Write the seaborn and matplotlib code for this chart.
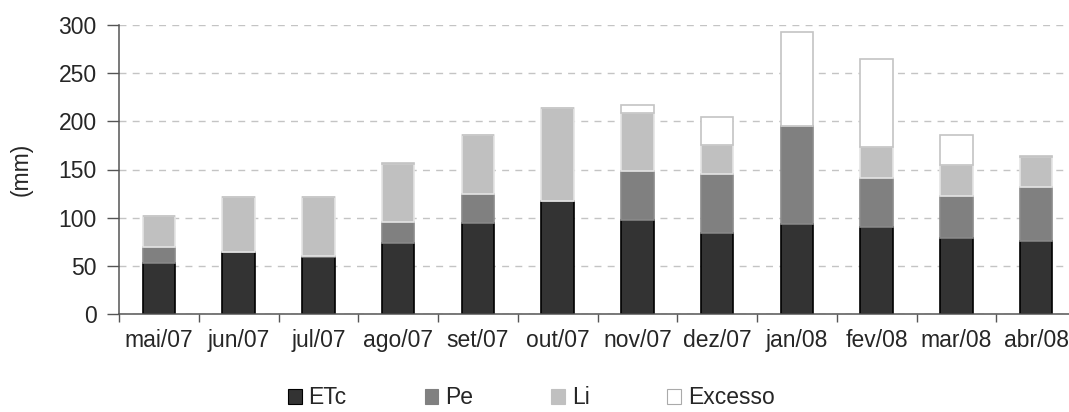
import numpy as np
import pandas as pd
import matplotlib
matplotlib.use("Agg")
import matplotlib.pyplot as plt
import seaborn as sns
from matplotlib.patches import Patch
from matplotlib.ticker import FixedLocator

months = ["mai/07", "jun/07", "jul/07", "ago/07", "set/07", "out/07",
          "nov/07", "dez/07", "jan/08", "fev/08", "mar/08", "abr/08"]
etc = [53.3, 64.0, 59.5, 73.7, 94.1, 117.6, 97.6, 84.4, 93.8, 90.0, 78.9, 75.4]
pe = [16.3, 0.0, 0.8, 21.8, 30.8, 0.0, 51.2, 60.6, 101.4, 51.2, 43.9, 56.8]
li = [32.1, 57.8, 61.5, 59.9, 61.3, 96.2, 59.5, 30.4, 0.0, 32.5, 32.2, 31.1]
excesso = [0.0, 0.0, 0.0, 1.3, 0.0, 0.0, 9.0, 29.1, 97.5, 91.4, 31.2, 0.7]

series_names = ["ETc", "Pe", "Li", "Excesso"]
fills = ["#333333", "#808080", "#c0c0c0", "#ffffff"]
edges = ["#000000", "#8a8a8a", "#e4e4e4", "#c4c4c4"]

sns.set_style("white")
plt.rcParams["font.family"] = ["Liberation Sans", "DejaVu Sans"]

fig = plt.figure(figsize=(10.69, 4.12), dpi=100)
ax = fig.add_axes([119 / 1069, 1 - 314 / 412, (1076 - 119) / 1069, (314 - 25) / 412])

df = pd.DataFrame({"mes": months, "ETc": etc, "Pe": pe, "Li": li, "Excesso": excesso})

bottom = np.zeros(len(months))
for name, fc, ec in zip(series_names, fills, edges):
    sns.barplot(data=df, x="mes", y=name, order=months, color=fc, ax=ax,
                width=0.41, bottom=bottom, edgecolor=ec, linewidth=1.2,
                saturation=1, zorder=3)
    bottom = bottom + df[name].to_numpy()

ax.set_ylim(0, 300)
ax.set_xlim(-0.5, 11.5)
ax.set_yticks(np.arange(0, 301, 50))
ax.set_xlabel("")
ax.set_ylabel("(mm)", fontsize=16.5, labelpad=19)

ax.yaxis.grid(True, linestyle=(0, (5, 4.5)), color="#c4c4c4", linewidth=1, zorder=0)
ax.xaxis.grid(False)
ax.set_axisbelow(True)

for s in ["top", "right"]:
    ax.spines[s].set_visible(False)
for s in ["left", "bottom"]:
    ax.spines[s].set_color("#555555")
    ax.spines[s].set_linewidth(1.1)
    ax.spines[s].set_zorder(4)

ax.tick_params(axis="y", which="major", direction="out", length=9, width=1,
               color="#555555", labelsize=16.5, pad=7, left=True)
ax.tick_params(axis="x", which="major", length=0, labelsize=16.5, pad=11)
ax.xaxis.set_minor_locator(FixedLocator(np.arange(-0.5, 12, 1.0)))
ax.tick_params(axis="x", which="minor", direction="out", length=6, width=1,
               color="#555555", bottom=True)

handles = [Patch(facecolor=fc, edgecolor=ec, linewidth=0.8)
           for fc, ec in zip(fills, ["#000000", "#808080", "#c0c0c0", "#aaaaaa"])]
fig.legend(handles, series_names, loc="center", bbox_to_anchor=(0.497, 1 - 398 / 412),
           ncol=4, frameon=False, fontsize=16.5, handlelength=0.6, handleheight=0.6,
           handletextpad=0.3, columnspacing=3.4)

fig.savefig("out.png", dpi=100)
